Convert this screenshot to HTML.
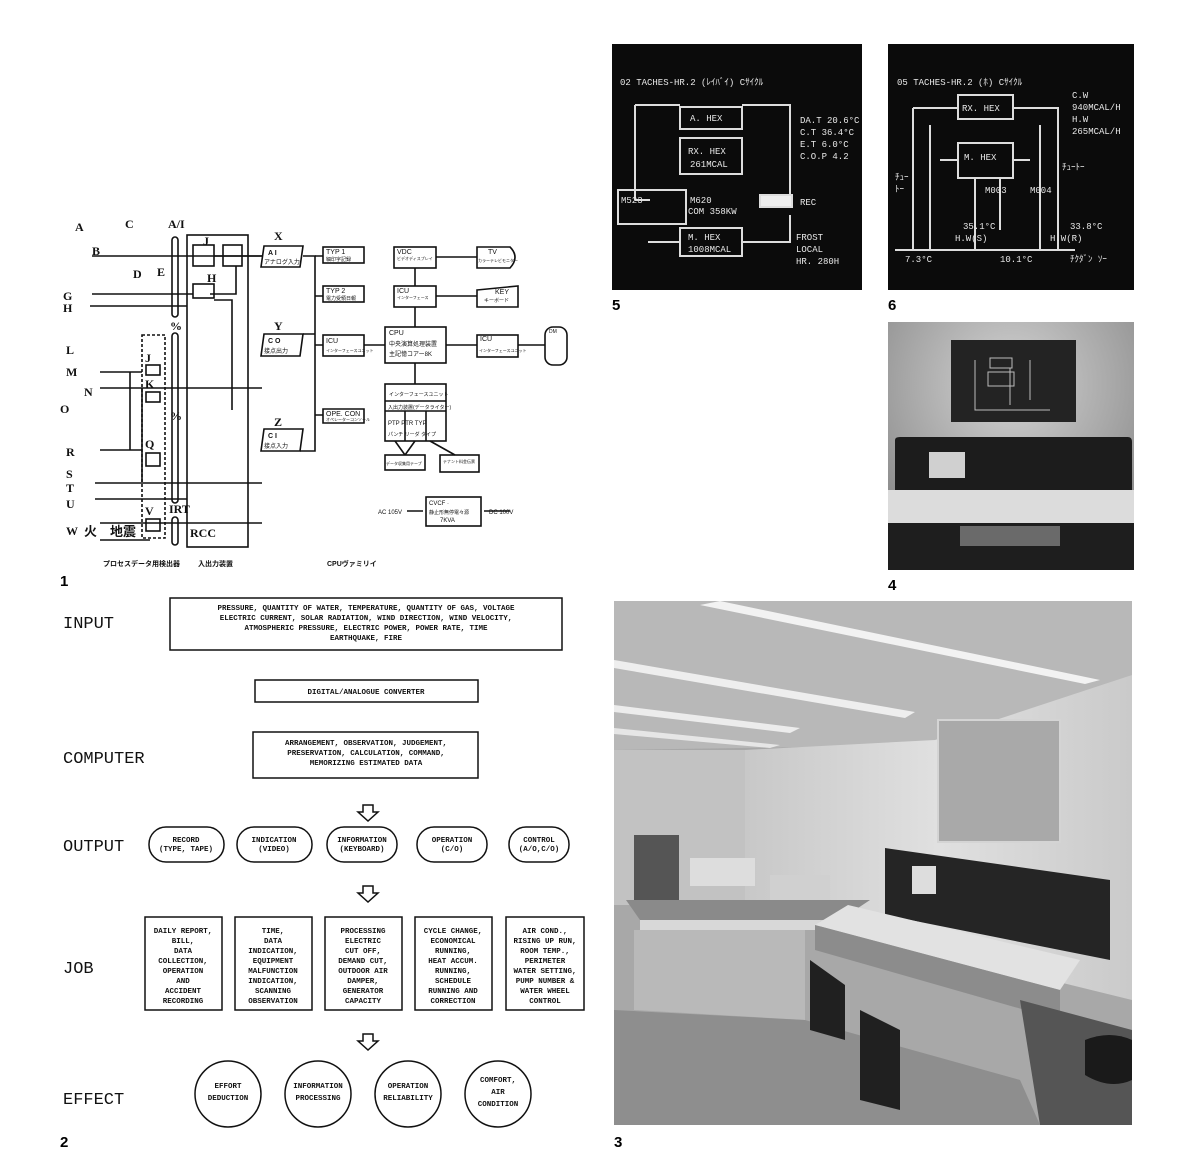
<!DOCTYPE html>
<html><head><meta charset="utf-8"><style>
body{margin:0;background:#fff}
svg{display:block}
text{font-family:"Liberation Sans","Noto Sans CJK JP",sans-serif}
.m text,text.m{font-family:"Liberation Mono","Noto Sans CJK JP",monospace}
.s text{font-family:"Liberation Serif",serif}
</style></head><body>
<svg width="1200" height="1172" viewBox="0 0 1200 1172" xmlns="http://www.w3.org/2000/svg">
<rect width="1200" height="1172" fill="#fff"/>

<!-- ===== DIAGRAM 1 ===== -->
<g stroke="#111" stroke-width="1.6" fill="none">
  <rect x="187" y="235" width="61" height="312"/>
  <rect x="142" y="335" width="23" height="203" stroke-dasharray="3,2"/>
  <rect x="172" y="237" width="6" height="80" rx="3"/>
  <rect x="172" y="333" width="6" height="170" rx="3"/>
  <rect x="172" y="517" width="6" height="28" rx="3"/>
  <rect x="193" y="245" width="21" height="21"/>
  <rect x="223" y="245" width="19" height="21"/>
  <rect x="193" y="284" width="21" height="14"/>
  <rect x="146" y="365" width="14" height="10"/>
  <rect x="146" y="392" width="14" height="10"/>
  <rect x="146" y="453" width="14" height="13"/>
  <rect x="146" y="519" width="14" height="12"/>
  <path d="M92 256H262M92 294H193M90 306H187M100 372H142M100 388H262M100 450H142M95 483H262M95 499H187M100 523H262M100 540H150"/>
  <path d="M130 372V450M142 388V482"/>
  <path d="M214 256H262M236 266V294H210M248 256H262M214 300H232V410"/>
  <path d="M264 246H303L300 267H261Z M264 334H303L300 356H261Z M264 429H303L300 451H261Z"/>
  <path d="M303 256H315V334H303M315 267V429M300 451H315V340"/>
  <path d="M315 256H323M315 296H323M315 345H323M315 415H323"/>
  <path d="M364 345H385M446 345H477M518 345H545M415 268V286M415 307V327M436 257H477M436 296H477M415 363V384"/>
  <rect x="323" y="247" width="41" height="16"/>
  <rect x="323" y="286" width="41" height="16"/>
  <rect x="323" y="335" width="41" height="21"/>
  <path d="M323 409H364V423H323Z"/>
  <rect x="385" y="327" width="61" height="36"/>
  <rect x="394" y="247" width="42" height="21"/>
  <path d="M477 247H510Q520 257 510 268H477Z"/>
  <rect x="394" y="286" width="42" height="21"/>
  <path d="M477 290L518 286V307H477Z"/>
  <rect x="477" y="335" width="41" height="22"/>
  <rect x="545" y="327" width="22" height="38" rx="8"/>
  <rect x="385" y="384" width="61" height="57"/>
  <path d="M385 401H446M385 411H446M405 411V441M426 411V441"/>
  <rect x="385" y="455" width="40" height="15"/>
  <rect x="440" y="455" width="39" height="17"/>
  <path d="M395 441L405 455M415 441L405 455M430 441L455 455"/>
  <rect x="426" y="497" width="55" height="29"/>
  <path d="M423 511H407M510 511H484"/>
</g>
<g font-size="12" font-weight="bold" fill="#111" class="s">
  <text x="75" y="231">A</text><text x="125" y="228">C</text><text x="168" y="228">A/I</text>
  <text x="92" y="255">B</text><text x="133" y="278">D</text><text x="157" y="276">E</text>
  <text x="63" y="300">G</text><text x="63" y="312">H</text><text x="203" y="245">J</text><text x="207" y="282">H</text>
  <text x="170" y="330">%</text><text x="170" y="420">%</text>
  <text x="66" y="354">L</text><text x="66" y="376">M</text><text x="84" y="396">N</text><text x="60" y="413">O</text>
  <text x="66" y="456">R</text><text x="66" y="478">S</text><text x="66" y="492">T</text><text x="66" y="508">U</text><text x="66" y="535">W</text>
  <text x="145" y="362">J</text><text x="145" y="388">K</text><text x="145" y="448">Q</text><text x="145" y="515">V</text>
  <text x="169" y="513">IRT</text><text x="190" y="537">RCC</text>
  <text x="274" y="240">X</text><text x="274" y="330">Y</text><text x="274" y="426">Z</text>
</g>
<text x="84" y="536" font-size="13" font-weight="bold" fill="#111">火　地震</text>
<g font-size="7" fill="#111">
  <text x="268" y="255" font-weight="bold">A I</text><text x="264" y="264" font-size="6">アナログ入力</text>
  <text x="268" y="343" font-weight="bold">C O</text><text x="264" y="353" font-size="6">接点出力</text>
  <text x="268" y="438" font-weight="bold">C I</text><text x="264" y="448" font-size="6">接点入力</text>
  <text x="326" y="254">TYP 1</text><text x="326" y="261" font-size="5">細印字記録</text>
  <text x="326" y="293">TYP 2</text><text x="326" y="300" font-size="5">電力受領日報</text>
  <text x="326" y="343">ICU</text><text x="326" y="352" font-size="4">インターフェースユニット</text>
  <text x="326" y="416">OPE. CON</text><text x="326" y="421" font-size="4">オペレーターコンソール</text>
  <text x="397" y="254">VDC</text><text x="397" y="260" font-size="4">ビデオディスプレイ</text>
  <text x="488" y="254">TV</text><text x="478" y="262" font-size="4">カラーテレビモニター</text>
  <text x="397" y="293">ICU</text><text x="397" y="299" font-size="4">インターフェース</text>
  <text x="495" y="294">KEY</text><text x="484" y="302" font-size="5">キーボード</text>
  <text x="389" y="335">CPU</text><text x="389" y="346" font-size="6">中央演算処理装置</text><text x="389" y="356" font-size="6">主記憶コアー8K</text>
  <text x="480" y="341">ICU</text><text x="479" y="352" font-size="4">インターフェースユニット</text>
  <text x="549" y="333" font-size="5">DM</text>
  <text x="389" y="396" font-size="5">インターフェースユニット</text>
  <text x="388" y="409" font-size="5">入出力装置(データライター)</text>
  <text x="388" y="425" font-size="6">PTP PTR TYP</text><text x="388" y="436" font-size="5">パンチ リーダ タイプ</text>
  <text x="386" y="465" font-size="4">データ収集用テープ</text><text x="443" y="463" font-size="4">テナント料金伝票</text>
  <text x="429" y="505" font-size="6">CVCF ·</text><text x="429" y="514" font-size="5">静止形無停電々源</text><text x="440" y="522" font-size="6">7KVA</text>
  <text x="378" y="514" font-size="6">AC 105V</text><text x="489" y="514" font-size="6">DC 100V</text>
  <text x="103" y="566" font-size="7" font-weight="bold">プロセスデータ用検出器</text>
  <text x="198" y="566" font-size="7" font-weight="bold">入出力装置</text>
  <text x="327" y="566" font-size="7" font-weight="bold">CPUヴァミリイ</text>
</g>
<text x="60" y="586" font-size="15" font-weight="bold">1</text>

<!-- ===== DIAGRAM 2 ===== -->
<g font-size="17" fill="#111" class="m">
  <text x="63" y="628">INPUT</text>
  <text x="63" y="763">COMPUTER</text>
  <text x="63" y="851">OUTPUT</text>
  <text x="63" y="973">JOB</text>
  <text x="63" y="1104">EFFECT</text>
</g>
<g stroke="#111" stroke-width="1.5" fill="none">
  <rect x="170" y="598" width="392" height="52"/>
  <rect x="255" y="680" width="223" height="22"/>
  <rect x="253" y="732" width="225" height="46"/>
  <rect x="149" y="827" width="75" height="35" rx="17"/>
  <rect x="237" y="827" width="75" height="35" rx="17"/>
  <rect x="327" y="827" width="70" height="35" rx="17"/>
  <rect x="417" y="827" width="70" height="35" rx="17"/>
  <rect x="509" y="827" width="60" height="35" rx="17"/>
  <rect x="145" y="917" width="77" height="93"/>
  <rect x="235" y="917" width="77" height="93"/>
  <rect x="325" y="917" width="77" height="93"/>
  <rect x="415" y="917" width="77" height="93"/>
  <rect x="506" y="917" width="78" height="93"/>
  <circle cx="228" cy="1094" r="33"/><circle cx="318" cy="1094" r="33"/>
  <circle cx="408" cy="1094" r="33"/><circle cx="498" cy="1094" r="33"/>
  <path d="M363 805H373V812H378L368 821L358 812H363Z"/>
  <path d="M363 886H373V893H378L368 902L358 893H363Z"/>
  <path d="M363 1034H373V1041H378L368 1050L358 1041H363Z"/>
</g>
<g font-size="7.5" font-weight="bold" fill="#111" text-anchor="middle" class="m">
  <text x="366" y="610">PRESSURE, QUANTITY OF WATER, TEMPERATURE, QUANTITY OF GAS, VOLTAGE</text>
  <text x="366" y="620">ELECTRIC CURRENT, SOLAR RADIATION, WIND DIRECTION, WIND VELOCITY,</text>
  <text x="366" y="630">ATMOSPHERIC PRESSURE, ELECTRIC POWER, POWER RATE, TIME</text>
  <text x="366" y="640">EARTHQUAKE, FIRE</text>
  <text x="366" y="694">DIGITAL/ANALOGUE CONVERTER</text>
  <text x="366" y="745">ARRANGEMENT, OBSERVATION, JUDGEMENT,</text>
  <text x="366" y="755">PRESERVATION, CALCULATION, COMMAND,</text>
  <text x="366" y="765">MEMORIZING ESTIMATED DATA</text>
  <text x="186" y="842">RECORD</text><text x="186" y="851">(TYPE, TAPE)</text>
  <text x="274" y="842">INDICATION</text><text x="274" y="851">(VIDEO)</text>
  <text x="362" y="842">INFORMATION</text><text x="362" y="851">(KEYBOARD)</text>
  <text x="452" y="842">OPERATION</text><text x="452" y="851">(C/O)</text>
  <text x="539" y="842">CONTROL</text><text x="539" y="851">(A/O,C/O)</text>
  <text x="183" y="933">DAILY REPORT,</text><text x="183" y="943">BILL,</text><text x="183" y="953">DATA</text><text x="183" y="963">COLLECTION,</text><text x="183" y="973">OPERATION</text><text x="183" y="983">AND</text><text x="183" y="993">ACCIDENT</text><text x="183" y="1003">RECORDING</text>
  <text x="273" y="933">TIME,</text><text x="273" y="943">DATA</text><text x="273" y="953">INDICATION,</text><text x="273" y="963">EQUIPMENT</text><text x="273" y="973">MALFUNCTION</text><text x="273" y="983">INDICATION,</text><text x="273" y="993">SCANNING</text><text x="273" y="1003">OBSERVATION</text>
  <text x="363" y="933">PROCESSING</text><text x="363" y="943">ELECTRIC</text><text x="363" y="953">CUT OFF,</text><text x="363" y="963">DEMAND CUT,</text><text x="363" y="973">OUTDOOR AIR</text><text x="363" y="983">DAMPER,</text><text x="363" y="993">GENERATOR</text><text x="363" y="1003">CAPACITY</text>
  <text x="453" y="933">CYCLE CHANGE,</text><text x="453" y="943">ECONOMICAL</text><text x="453" y="953">RUNNING,</text><text x="453" y="963">HEAT ACCUM.</text><text x="453" y="973">RUNNING,</text><text x="453" y="983">SCHEDULE</text><text x="453" y="993">RUNNING AND</text><text x="453" y="1003">CORRECTION</text>
  <text x="545" y="933">AIR COND.,</text><text x="545" y="943">RISING UP RUN,</text><text x="545" y="953">ROOM TEMP.,</text><text x="545" y="963">PERIMETER</text><text x="545" y="973">WATER SETTING,</text><text x="545" y="983">PUMP NUMBER &amp;</text><text x="545" y="993">WATER WHEEL</text><text x="545" y="1003">CONTROL</text>
  <text x="228" y="1088">EFFORT</text><text x="228" y="1100">DEDUCTION</text>
  <text x="318" y="1088">INFORMATION</text><text x="318" y="1100">PROCESSING</text>
  <text x="408" y="1088">OPERATION</text><text x="408" y="1100">RELIABILITY</text>
  <text x="498" y="1082">COMFORT,</text><text x="498" y="1094">AIR</text><text x="498" y="1106">CONDITION</text>
</g>
<text x="60" y="1147" font-size="15" font-weight="bold">2</text>

<!-- ===== PHOTO 5 ===== -->
<rect x="612" y="44" width="250" height="246" fill="#0b0b0b"/>
<g stroke="#ddd" stroke-width="2" fill="none">
  <path d="M635 105V200M635 105H680M742 105H790V200H770M635 200H650"/>
  <rect x="680" y="107" width="62" height="22"/>
  <rect x="680" y="138" width="62" height="36"/>
  <rect x="618" y="190" width="68" height="34"/>
  <rect x="680" y="228" width="62" height="28"/>
  <path d="M648 242H680M742 242H790V215"/>
  <rect x="760" y="195" width="32" height="12" fill="#eee"/>
</g>
<g fill="#e8e8e8" font-size="9" class="m">
  <text x="620" y="85">02 TACHES-HR.2 (ﾚｲﾊﾞｲ)  Cｻｲｸﾙ</text>
  <text x="690" y="121">A. HEX</text>
  <text x="688" y="154">RX. HEX</text><text x="690" y="167">261MCAL</text>
  <text x="621" y="203">M523</text><text x="690" y="203">M620</text><text x="688" y="214">COM 358KW</text>
  <text x="688" y="240">M. HEX</text><text x="688" y="252">1008MCAL</text>
  <text x="800" y="123">DA.T 20.6°C</text><text x="800" y="135">C.T 36.4°C</text><text x="800" y="147">E.T 6.0°C</text><text x="800" y="159">C.O.P 4.2</text>
  <text x="800" y="205">REC</text>
  <text x="796" y="240">FROST</text><text x="796" y="252">LOCAL</text><text x="796" y="264">HR. 280H</text>
</g>
<text x="612" y="310" font-size="15" font-weight="bold">5</text>

<!-- ===== PHOTO 6 ===== -->
<rect x="888" y="44" width="246" height="246" fill="#0b0b0b"/>
<g stroke="#ddd" stroke-width="2" fill="none">
  <rect x="958" y="95" width="55" height="24"/>
  <rect x="958" y="143" width="55" height="35"/>
  <path d="M913 108H958M1013 108H1058V250M913 108V250M930 125V250M1040 125V250M940 160H958M1013 160H1030M975 178V250M1000 178V230"/>
  <path d="M895 250H1075"/>
</g>
<g fill="#e8e8e8" font-size="9" class="m">
  <text x="897" y="85">05 TACHES-HR.2 (ﾎ) Cｻｲｸﾙ</text>
  <text x="962" y="111">RX. HEX</text><text x="964" y="160">M. HEX</text>
  <text x="1072" y="98">C.W</text><text x="1072" y="110">940MCAL/H</text><text x="1072" y="122">H.W</text><text x="1072" y="134">265MCAL/H</text>
  <text x="895" y="180">ﾁｭｰ</text><text x="895" y="192">ﾄｰ</text><text x="1062" y="170">ﾁｭｰﾄｰ</text>
  <text x="985" y="193">M003</text><text x="1030" y="193">M004</text>
  <text x="963" y="229">35.1°C</text><text x="955" y="241">H.W(S)</text>
  <text x="1070" y="229">33.8°C</text><text x="1050" y="241">H.W(R)</text>
  <text x="905" y="262">7.3°C</text><text x="1000" y="262">10.1°C</text><text x="1070" y="262">ﾁｸﾀﾞﾝ ｿｰ</text>
</g>
<text x="888" y="310" font-size="15" font-weight="bold">6</text>

<!-- ===== PHOTO 4 ===== -->
<defs>
  <radialGradient id="w4" cx="0.5" cy="0.25" r="0.7"><stop offset="0" stop-color="#d4d4d4"/><stop offset="1" stop-color="#8a8a8a"/></radialGradient>
  <linearGradient id="w3" x1="0" y1="0" x2="1" y2="0"><stop offset="0" stop-color="#c8c8c8"/><stop offset="0.5" stop-color="#e0e0e0"/><stop offset="1" stop-color="#cacaca"/></linearGradient>
</defs>
<rect x="888" y="322" width="246" height="248" fill="url(#w4)"/>
<rect x="951" y="340" width="125" height="82" fill="#232323"/>
<g stroke="#bbb" fill="none" stroke-width="1"><rect x="990" y="358" width="22" height="10"/><rect x="988" y="372" width="26" height="14"/><path d="M975 360V410H1050M1010 368V405M1030 360V400"/></g>
<path d="M895 440Q895 437 900 437H1128Q1132 437 1132 442V490H895Z" fill="#1c1c1c"/>
<rect x="929" y="452" width="36" height="26" fill="#d0d0d0"/>
<path d="M888 490H1134V523H888Z" fill="#dcdcdc"/>
<path d="M888 523H1134V570H888Z" fill="#1e1e1e"/>
<rect x="960" y="526" width="100" height="20" fill="#6a6a6a"/>
<text x="888" y="590" font-size="15" font-weight="bold">4</text>

<!-- ===== PHOTO 3 ===== -->
<rect x="614" y="601" width="518" height="524" fill="#a8a8a8"/>
<path d="M614 601H1132V675L935 745L614 750Z" fill="#b8b8b8"/>
<path d="M720 601L1100 680L1085 684L700 605Z" fill="#f2f2f2"/>
<path d="M614 660L915 712L905 718L614 668Z" fill="#eeeeee"/>
<path d="M614 705L800 728L790 733L614 712Z" fill="#ececec"/>
<path d="M614 728L780 745L770 748L614 734Z" fill="#e6e6e6"/>
<path d="M614 750L745 750V905H614Z" fill="#c2c2c2"/>
<path d="M745 750L935 740L1132 675V1000L745 905Z" fill="url(#w3)"/>
<rect x="938" y="720" width="122" height="122" fill="#a9a9a9" stroke="#d4d4d4" stroke-width="2"/>
<rect x="634" y="835" width="45" height="65" fill="#555"/>
<rect x="690" y="858" width="65" height="28" fill="#ddd"/>
<rect x="770" y="875" width="60" height="25" fill="#d0d0d0"/>
<path d="M626 900H870L840 920H640Z" fill="#8a8a8a"/>
<path d="M640 920H820V930H640Z" fill="#d8d8d8"/>
<path d="M634 930H805V1020L634 1010Z" fill="#b9b9b9"/>
<path d="M885 848L1110 880V960L885 915Z" fill="#252525"/>
<rect x="912" y="866" width="24" height="28" fill="#ddd"/>
<path d="M848 905L1080 960L1060 990L815 925Z" fill="#e2e2e2"/>
<path d="M815 925L1060 990V1020L815 950Z" fill="#8c8c8c"/>
<path d="M1020 1000L1132 1030V1125H1040Z" fill="#555"/>
<path d="M614 1010L805 1020L1020 1080L1040 1125H614Z" fill="#8e8e8e"/>
<path d="M810 960L845 985V1040L810 1030Z M860 1010L900 1030V1110L860 1100Z" fill="#202020"/>
<path d="M1085 1040Q1110 1030 1132 1040V1080Q1110 1090 1085 1075Z" fill="#1a1a1a"/>
<text x="614" y="1147" font-size="15" font-weight="bold">3</text>
</svg>
</body></html>
